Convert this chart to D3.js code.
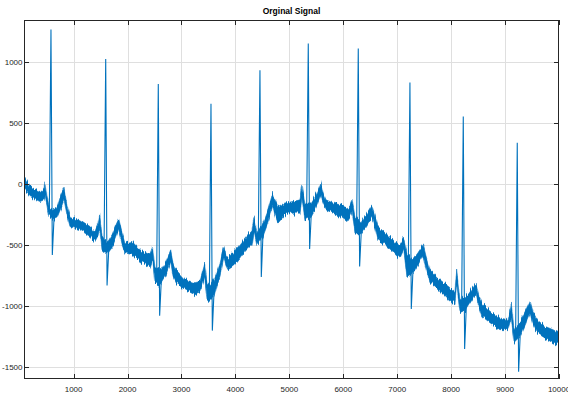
<!DOCTYPE html>
<html>
<head>
<meta charset="utf-8">
<script src="https://cdn.jsdelivr.net/npm/d3@7"></script>
<style>
  html, body { margin: 0; padding: 0; background: #fff; }
  svg { display: block; }
  text { font-family: "Liberation Sans Narrow", "Arial Narrow", "Liberation Sans", Arial, sans-serif; }
</style>
</head>
<body>
<svg id="chart" width="568" height="394"></svg>
<script>
// Sample index of each envelope point of the recorded trace
const bandSamples = [80, 191, 377, 451, 469, 506, 543, 618, 692, 766, 822, 877, 933, 1118, 1304, 1396, 1452, 1483, 1526, 1563,
  1637, 1712, 1786, 1836, 1897, 1953, 2082, 2231, 2416, 2466, 2509, 2546, 2620, 2712, 2800, 2842, 2898, 3065, 3250, 3343,
  3430, 3473, 3510, 3603, 3659, 3714, 3783, 3825, 3863, 3955, 4048, 4177, 4307, 4344, 4400, 4511, 4604, 4691, 4734, 4789,
  4919, 5067, 5197, 5234, 5290, 5401, 5494, 5581, 5623, 5679, 5809, 5939, 6068, 6124, 6161, 6217, 6328, 6420, 6532, 6588,
  6643, 6773, 6958, 7051, 7120, 7181, 7292, 7385, 7483, 7533, 7607, 7793, 7978, 8071, 8102, 8163, 8275, 8367, 8460, 8516,
  8571, 8720, 8905, 9053, 9115, 9165, 9276, 9369, 9467, 9517, 9591, 9739, 9888, 10000];

// Upper edge of the noisy trace at each sample above
const bandHigh = [60, -21, -62, -32, 11, -97, -179, -212, -196, -89, -34, -171, -267, -294, -349, -390, -327, -253, -431, -458,
  -472, -417, -335, -286, -392, -482, -472, -540, -581, -521, -676, -687, -704, -638, -540, -638, -704, -785, -810, -799,
  -657, -810, -826, -785, -720, -646, -513, -580, -605, -564, -516, -442, -376, -275, -400, -319, -212, -75, -130, -185,
  -155, -144, -130, 1, -155, -155, -89, 7, -65, -130, -155, -171, -196, -171, -124, -267, -319, -253, -171, -253,
  -349, -400, -472, -499, -444, -564, -622, -564, -499, -589, -704, -785, -851, -881, -698, -949, -922, -867, -812, -916,
  -974, -1045, -1099, -1113, -976, -1195, -1138, -1056, -963, -1047, -1113, -1168, -1195, -1222];

// Lower edge of the noisy trace at each sample above
const bandLow = [-40, -103, -144, -130, -89, -171, -261, -294, -278, -196, -130, -253, -349, -376, -431, -472, -425, -360, -540, -556,
  -567, -523, -441, -376, -499, -564, -580, -636, -687, -622, -812, -826, -810, -744, -638, -753, -810, -867, -909, -894,
  -769, -949, -966, -922, -826, -758, -605, -671, -704, -676, -636, -554, -499, -392, -499, -431, -319, -179, -253, -321,
  -253, -239, -239, -114, -294, -267, -188, -89, -155, -212, -239, -267, -308, -269, -228, -403, -400, -351, -269, -360,
  -458, -499, -567, -608, -540, -758, -731, -663, -589, -687, -810, -881, -963, -974, -826, -1056, -1031, -966, -900, -1015,
  -1086, -1138, -1195, -1195, -1097, -1301, -1250, -1162, -1056, -1146, -1222, -1263, -1304, -1318];

// QRS complexes: R-wave sample and height, S-wave sample and depth
const rSamples = [580, 1595, 2570, 3547, 4455, 5351, 6278, 7236, 8225, 9226];
const rPeaks   = [1268, 1025, 820, 658, 934, 1153, 1112, 834, 555, 339];
const sSamples = [605, 1620, 2595, 3572, 4480, 5376, 6303, 7261, 8250, 9251];
const sTroughs = [-583, -832, -1080, -1203, -763, -534, -676, -1025, -1353, -1541];

const xTicks = [1000, 2000, 3000, 4000, 5000, 6000, 7000, 8000, 9000, 10000];
const yTicks = [-1500, -1000, -500, 0, 500, 1000];
const chartTitle = "Orginal Signal";

const W = 568, H = 394;
const m = { left: 24, right: 9, top: 19.5, bottom: 15 };
const x0 = m.left, x1 = W - m.right, y0 = m.top, y1 = H - m.bottom;
const lineColor = "#0072BD";
const axisColor = "#262626";

const x = d3.scaleLinear().domain([80, 10000]).range([x0, x1]);
const y = d3.scaleLinear().domain([-1600, 1350]).range([y1, y0]);

const svg = d3.select("#chart");
const defs = svg.append("defs");

// fine vertical jitter so the band edges read as a noisy sampled trace
const rough = defs.append("filter").attr("id", "rough")
  .attr("x", "-2%").attr("y", "-10%").attr("width", "104%").attr("height", "120%");
rough.append("feTurbulence").attr("type", "fractalNoise")
  .attr("baseFrequency", "1.1 0.04").attr("numOctaves", 2).attr("seed", 3).attr("result", "n");
rough.append("feColorMatrix").attr("in", "n").attr("type", "matrix")
  .attr("values", "0 0 0 0 0.5  0 1 0 0 0  0 0 0 0 0  0 0 0 0 1").attr("result", "ny");
rough.append("feDisplacementMap").attr("in", "SourceGraphic").attr("in2", "ny")
  .attr("scale", 9).attr("xChannelSelector", "R").attr("yChannelSelector", "G");

// grid
const grid = svg.append("g").attr("shape-rendering", "crispEdges");
grid.selectAll("line.gx").data(xTicks.filter(t => t < 10000)).join("line")
  .attr("x1", d => Math.round(x(d)) + 0.5).attr("x2", d => Math.round(x(d)) + 0.5)
  .attr("y1", y0).attr("y2", y1)
  .attr("stroke", "#dfdfdf").attr("stroke-width", 1);
grid.selectAll("line.gy").data(yTicks).join("line")
  .attr("y1", d => Math.round(y(d)) + 0.5).attr("y2", d => Math.round(y(d)) + 0.5)
  .attr("x1", x0).attr("x2", x1)
  .attr("stroke", "#dfdfdf").attr("stroke-width", 1);

// clip to plot box
defs.append("clipPath").attr("id", "plotClip").append("rect")
  .attr("x", x0).attr("y", y0).attr("width", x1 - x0).attr("height", y1 - y0);
const plot = svg.append("g").attr("clip-path", "url(#plotClip)");

const band = bandSamples.map((s, i) => ({ s, hi: bandHigh[i], lo: bandLow[i] }));
const area = d3.area().x(d => x(d.s)).y0(d => y(d.lo)).y1(d => y(d.hi));
plot.append("g").attr("filter", "url(#rough)")
  .append("path").datum(band).attr("d", area)
  .attr("fill", lineColor).attr("stroke", lineColor).attr("stroke-width", 0.6)
  .attr("stroke-linejoin", "round");

// middle of the trace at any sample, used to attach each QRS spike
const bis = d3.bisector(d => d.s).left;
function midAt(s) {
  const i = Math.max(1, Math.min(band.length - 1, bis(band, s)));
  const a = band[i - 1], b = band[i];
  const t = (s - a.s) / (b.s - a.s);
  return ((a.hi + a.lo) / 2) * (1 - t) + ((b.hi + b.lo) / 2) * t;
}

const spikeLine = d3.line().x(d => x(d[0])).y(d => y(d[1]));
rSamples.forEach((r, i) => {
  const pre = r - 30, post = sSamples[i] + 35;
  const pts = [[pre, midAt(pre)], [r, rPeaks[i]], [sSamples[i], sTroughs[i]], [post, midAt(post)]];
  plot.append("path").attr("d", spikeLine(pts))
    .attr("fill", "none").attr("stroke", lineColor).attr("stroke-width", 1.1)
    .attr("stroke-linejoin", "miter");
});

// box and inward ticks
const axes = svg.append("g").attr("shape-rendering", "crispEdges");
axes.append("rect").attr("x", x0 + 0.5).attr("y", Math.round(y0) + 0.5)
  .attr("width", x1 - x0 - 1).attr("height", Math.round(y1) - Math.round(y0) - 1)
  .attr("fill", "none").attr("stroke", axisColor).attr("stroke-width", 1);
const tl = 5;
xTicks.forEach(t => {
  const px = Math.round(x(t)) + 0.5;
  axes.append("line").attr("x1", px).attr("x2", px).attr("y1", y1).attr("y2", y1 - tl).attr("stroke", axisColor);
  axes.append("line").attr("x1", px).attr("x2", px).attr("y1", y0).attr("y2", y0 + tl).attr("stroke", axisColor);
});
yTicks.forEach(t => {
  const py = Math.round(y(t)) + 0.5;
  axes.append("line").attr("y1", py).attr("y2", py).attr("x1", x0).attr("x2", x0 + tl).attr("stroke", axisColor);
  axes.append("line").attr("y1", py).attr("y2", py).attr("x1", x1).attr("x2", x1 - tl).attr("stroke", axisColor);
});

// tick labels
svg.append("g").selectAll("text").data(xTicks).join("text")
  .attr("x", d => x(d)).attr("y", y1 + 12.5)
  .attr("text-anchor", "middle").attr("font-size", 8).attr("fill", axisColor)
  .text(d => d);
svg.append("g").selectAll("text").data(yTicks).join("text")
  .attr("x", x0 - 1.5).attr("y", d => y(d) + 3)
  .attr("text-anchor", "end").attr("font-size", 8).attr("fill", axisColor)
  .text(d => d);

// title
svg.append("text").attr("x", (x0 + x1) / 2).attr("y", 13.5)
  .attr("text-anchor", "middle").attr("font-size", 8.5).attr("font-weight", "bold")
  .attr("fill", "#000").text(chartTitle);
</script>
</body>
</html>
